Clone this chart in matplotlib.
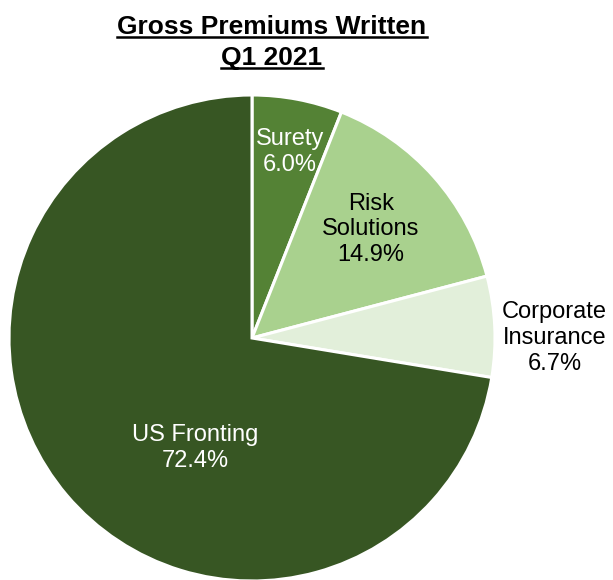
import matplotlib
matplotlib.use('Agg')
import matplotlib.pyplot as plt
from matplotlib.lines import Line2D

plt.rcParams['font.family'] = ['Liberation Sans', 'DejaVu Sans']

segments = ['Surety', 'Risk\nSolutions', 'Corporate\nInsurance', 'US Fronting']
shares = [6.0, 14.9, 6.7, 72.4]
colors = ['#548235', '#A9D18E', '#E2EFDA', '#375623']
text_colors = ['white', 'black', 'black', 'white']
# label spots in axis units (pie radius = 1)
label_xy = [(0.155, 0.765), (0.49, 0.447), (1.245, 0.0), (-0.235, -0.452)]

fig = plt.figure(figsize=(6.13, 5.80), dpi=100)
W, H = 613, 580
cx, cy, r = 252, 338, 243
ax = fig.add_axes([(cx - r) / W, (H - cy - r) / H, 2 * r / W, 2 * r / H])

wedges, _ = ax.pie(shares, colors=colors, startangle=90, counterclock=False,
                   wedgeprops=dict(edgecolor='white', linewidth=2.2))
for w in wedges:
    w.set_clip_on(False)
ax.set_xlim(-1, 1)
ax.set_ylim(-1, 1)
ax.axis('off')

for name, val, (x, y), c in zip(segments, shares, label_xy, text_colors):
    ax.text(x, y, f"{name}\n{val:.1f}%", ha='center', va='center',
            fontsize=17, color=c, linespacing=1.22, clip_on=False)

t1 = fig.text(272 / W, 1 - 27 / H, 'Gross Premiums Written', ha='center', va='center',
              fontsize=19, fontweight='bold')
t2 = fig.text(272 / W, 1 - 58 / H, 'Q1 2021', ha='center', va='center',
              fontsize=19, fontweight='bold')

# underline the title lines
fig.canvas.draw()
rend = fig.canvas.get_renderer()
for t in (t1, t2):
    bb = t.get_window_extent(rend).transformed(fig.transFigure.inverted())
    y = bb.y0 + 2.0 / H
    fig.add_artist(Line2D([bb.x0, bb.x1], [y, y], color='black', lw=1.8,
                          transform=fig.transFigure))

fig.savefig('out.png', dpi=100)
